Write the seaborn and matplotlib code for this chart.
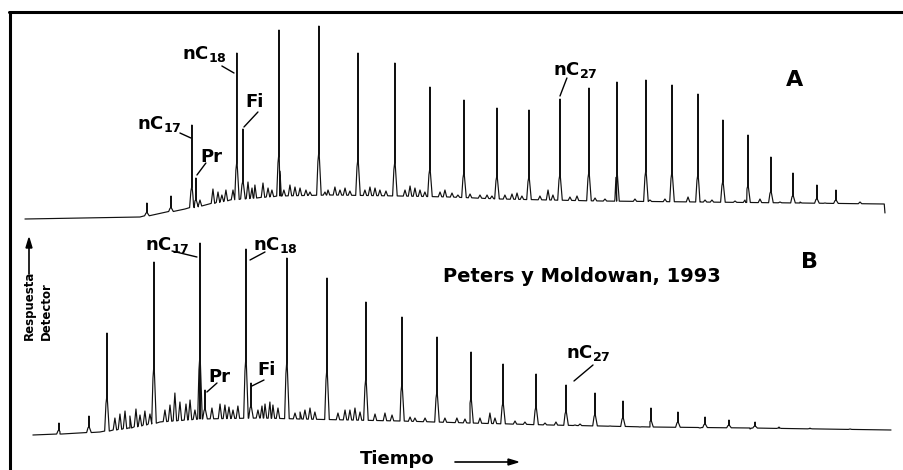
import numpy as np
import pandas as pd
import matplotlib.pyplot as plt
import seaborn as sns
from matplotlib.lines import Line2D

# ---- Chromatogram A (time in min, detector response in %) ----
a_base_t = [0.0, 7.98, 11.10, 14.22, 17.69, 21.16, 26.01, 29.48, 32.95, 39.88, 46.82, 53.76, 59.60, 59.65]
a_base_r = [0.5, 1.5, 5.5, 10.0, 12.0, 12.5, 12.0, 11.5, 10.5, 9.5, 9.0, 8.5, 8.0, 3.5]

a_peak_t = [8.46, 10.13, 11.58, 11.86, 14.70, 15.12, 17.62, 20.39, 23.10, 25.66, 28.09,
            30.45, 32.74, 34.96, 37.11, 39.12, 41.06, 43.07, 44.88, 46.68, 48.41,
            50.15, 51.74, 53.27, 54.93, 56.25]
a_peak_r = [8.5, 12.0, 47.5, 21.0, 83.5, 45.5, 95.0, 97.0, 83.5, 78.5, 66.5,
            60.0, 56.0, 55.0, 60.5, 66.0, 69.0, 70.0, 67.5, 63.0, 50.0,
            42.5, 31.5, 23.5, 17.5, 15.0]

a_minor_t = [12.14, 13.04, 13.39, 13.66, 13.94, 15.47, 15.95, 16.51, 16.86, 18.38, 19.08,
             19.49, 21.02, 21.50, 22.20, 23.93, 24.62, 26.71, 27.40, 28.79, 29.62,
             32.05, 34.13, 36.28, 38.29, 40.23, 42.31, 45.99, 47.65, 49.25, 50.98,
             53.76, 57.92,
             14.43, 15.75, 17.13, 17.96, 18.73, 19.77, 20.81, 21.85, 22.54, 23.58,
             24.28, 25.04, 26.36, 27.05, 27.74, 29.13, 30.03, 30.87, 31.56, 32.39,
             33.29, 33.78, 34.47, 35.72, 36.62, 37.80, 39.54, 40.92, 43.35, 44.39,
             47.17, 49.94, 52.37, 55.49]
a_minor_r = [10.0, 15.5, 14.0, 12.5, 15.0, 19.0, 17.5, 18.5, 16.0, 17.5, 16.0,
             15.0, 15.0, 16.5, 16.0, 16.5, 15.0, 17.0, 15.0, 14.0, 13.5,
             12.5, 13.5, 15.0, 12.0, 10.5, 10.5, 11.5, 10.0, 9.5, 10.5,
             9.0, 9.0,
             15.0, 16.0, 15.0, 15.0, 16.5, 14.0, 14.0, 15.0, 14.5, 15.0,
             16.0, 14.5, 15.0, 16.0, 14.0, 15.0, 12.5, 13.0, 12.5, 12.0,
             12.5, 13.0, 12.0, 12.0, 12.5, 11.5, 11.0, 10.5, 10.0, 10.5,
             10.0, 10.0, 9.0, 8.5]

# ---- Chromatogram B ----
b_base_t = [0.55, 2.43, 5.20, 7.28, 9.36, 12.14, 16.30, 19.08, 26.01, 30.87, 36.42, 43.35, 50.29, 60.07]
b_base_r = [0.5, 1.0, 2.0, 4.0, 7.0, 8.5, 9.0, 8.5, 7.5, 6.5, 5.5, 4.5, 4.0, 3.0]

b_peak_t = [2.36, 4.44, 5.69, 8.95, 12.14, 12.49, 15.33, 15.68, 18.17, 20.95, 23.65,
            26.15, 28.58, 30.94, 33.16, 35.45, 37.53, 39.54, 41.48, 43.42, 45.29,
            47.17, 48.83, 50.64, 52.30, 54.45]
b_peak_r = [6.5, 10.0, 51.5, 87.0, 96.5, 23.0, 93.5, 26.5, 89.0, 79.0, 67.0,
            59.5, 49.5, 42.0, 36.0, 31.0, 25.5, 21.5, 17.5, 14.0, 12.0,
            9.5, 8.0, 7.0, 4.5, 4.0]

b_minor_t = [6.94, 7.70, 7.98, 8.32, 10.40, 10.75, 11.17, 11.45, 13.53, 13.87, 14.15,
             16.65, 16.99, 17.20, 19.08, 19.77, 22.54, 22.89, 24.97, 27.05, 27.75,
             29.96, 32.25, 32.60, 34.68, 36.83, 38.50, 40.58, 42.66, 46.82, 50.29, 57.23,
             6.24, 6.59, 7.28, 8.67, 9.71, 10.06, 11.79, 12.97, 14.43, 14.77,
             16.16, 16.44, 17.55, 18.73, 19.42, 20.11, 21.71, 22.20, 23.24, 24.28,
             25.46, 26.71, 29.13, 30.52, 31.56, 33.99, 36.07, 38.15]
b_minor_r = [12.5, 13.5, 10.5, 12.5, 21.5, 17.0, 16.0, 18.0, 16.0, 15.5, 14.5,
             16.0, 17.0, 15.5, 12.0, 14.0, 13.0, 14.0, 11.5, 9.0, 9.0,
             9.0, 11.5, 9.0, 7.0, 7.0, 6.0, 5.0, 4.5, 4.0, 3.5, 3.5,
             9.0, 11.0, 10.0, 11.0, 13.0, 15.5, 13.0, 14.0, 13.0, 15.0,
             13.0, 15.0, 14.0, 11.5, 13.0, 12.0, 11.5, 13.0, 12.0, 11.0,
             10.5, 9.5, 9.0, 8.5, 9.0, 7.5, 6.5, 5.5]


def build_trace(base_t, base_r, peak_t, peak_r, minor_t, minor_r, shoulder):
    bt = np.asarray(base_t)
    br = np.asarray(base_r)
    t, r = list(bt), list(br)
    for pt, pr in zip(peak_t, peak_r):
        foot = np.interp(pt, bt, br)
        mid = foot + shoulder * (pr - foot)
        t += [pt - 0.16, pt - 0.07, pt - 0.015, pt, pt + 0.015, pt + 0.07, pt + 0.16]
        r += [foot, mid * 0.8 + foot * 0.2, mid, pr, mid, mid * 0.6 + foot * 0.4, foot]
    for mt, mr in zip(minor_t, minor_r):
        foot = np.interp(mt, bt, br)
        t += [mt - 0.12, mt, mt + 0.12]
        r += [foot, mr, foot]
    df = pd.DataFrame({"tiempo": t, "respuesta": r})
    return df.sort_values("tiempo", kind="stable").reset_index(drop=True)


sns.set_style("white")
plt.rcParams["font.family"] = ["DejaVu Sans"]
plt.rcParams["mathtext.fontset"] = "dejavusans"
plt.rcParams["text.color"] = "black"

fig = plt.figure(figsize=(9.04, 4.70), dpi=100)
ax_a = fig.add_axes([0, 0, 1, 1])
ax_b = fig.add_axes([0, 0, 1, 1])
for ax in (ax_a, ax_b):
    ax.set_xlim(-1.73, 60.97)
    ax.patch.set_alpha(0)
    ax.set_axis_off()
ax_a.set_ylim(-125, 110)
ax_b.set_ylim(-17, 218)

df_a = build_trace(a_base_t, a_base_r, a_peak_t, a_peak_r, a_minor_t, a_minor_r, 0.25)
df_b = build_trace(b_base_t, b_base_r, b_peak_t, b_peak_r, b_minor_t, b_minor_r, 0.35)
sns.lineplot(data=df_a, x="tiempo", y="respuesta", sort=False, estimator=None,
             color="#111111", linewidth=0.85, ax=ax_a)
sns.lineplot(data=df_b, x="tiempo", y="respuesta", sort=False, estimator=None,
             color="#111111", linewidth=0.85, ax=ax_b)


def label(ax, txt, xy, line, size=13):
    ax.text(xy[0], xy[1], txt, ha="left", va="center", fontsize=size, fontweight="bold")
    ax.plot([line[0], line[2]], [line[1], line[3]], color="black", lw=1.0)


# labels A
label(ax_a, r"nC$_{\mathbf{18}}$", (10.89, 83), (13.66, 77, 14.50, 73.5))
label(ax_a, "Fi", (15.26, 59), (16.16, 54, 15.19, 46.5))
label(ax_a, r"nC$_{\mathbf{17}}$", (7.77, 48), (10.75, 43.5, 11.51, 41))
label(ax_a, "Pr", (12.14, 31.5), (12.55, 28.5, 11.93, 22.5))
label(ax_a, r"nC$_{\mathbf{27}}$", (36.62, 75), (37.59, 71, 37.11, 62))
ax_a.text(53.4, 70, "A", ha="center", va="center", fontsize=16, fontweight="bold")

# labels B
label(ax_b, r"nC$_{\mathbf{17}}$", (8.32, 95.5), (10.20, 92.5, 11.93, 89.5))
label(ax_b, r"nC$_{\mathbf{18}}$", (15.81, 95.5), (16.65, 92, 15.61, 88))
label(ax_b, "Pr", (12.69, 29.5), (13.32, 26.5, 12.62, 22))
label(ax_b, "Fi", (16.09, 33), (16.58, 28, 15.74, 25))
label(ax_b, r"nC$_{\mathbf{27}}$", (37.53, 41.5), (39.40, 35.5, 38.08, 27.5))
ax_b.text(54.45, 87, "B", ha="center", va="center", fontsize=16, fontweight="bold")
ax_b.text(28.99, 80, "Peters y Moldowan, 1993", ha="left", va="center",
          fontsize=14, fontweight="bold")

# axis captions
fig.text(360 / 904, 1.5 / 470, "Tiempo", ha="left", va="bottom",
         fontsize=13, fontweight="bold")
fig.add_artist(Line2D([455 / 904, 512 / 904], [1 - 462 / 470] * 2, color="black", lw=1.2))
fig.patches.append(plt.Polygon([[518 / 904, 1 - 462 / 470], [508 / 904, 1 - 459 / 470],
                                [508 / 904, 1 - 465 / 470]], closed=True, color="black",
                               transform=fig.transFigure, figure=fig))

fig.text(29 / 904, 1 - 340 / 470, "Respuesta", rotation=90, ha="center", va="bottom",
         fontsize=8.5, fontweight="bold")
fig.text(46 / 904, 1 - 340 / 470, "Detector", rotation=90, ha="center", va="bottom",
         fontsize=8.5, fontweight="bold")
fig.add_artist(Line2D([29 / 904] * 2, [1 - 274 / 470, 1 - 246 / 470], color="black", lw=1.2))
fig.patches.append(plt.Polygon([[29 / 904, 1 - 238 / 470], [26 / 904, 1 - 248 / 470],
                                [32 / 904, 1 - 248 / 470]], closed=True, color="black",
                               transform=fig.transFigure, figure=fig))

# frame
fig.add_artist(Line2D([9 / 904, 1.0], [1 - 12 / 470] * 2, color="black", lw=2.2))
fig.add_artist(Line2D([10 / 904] * 2, [1 - 12 / 470, 0.0], color="black", lw=2.2))

fig.savefig("out.png", dpi=100)
